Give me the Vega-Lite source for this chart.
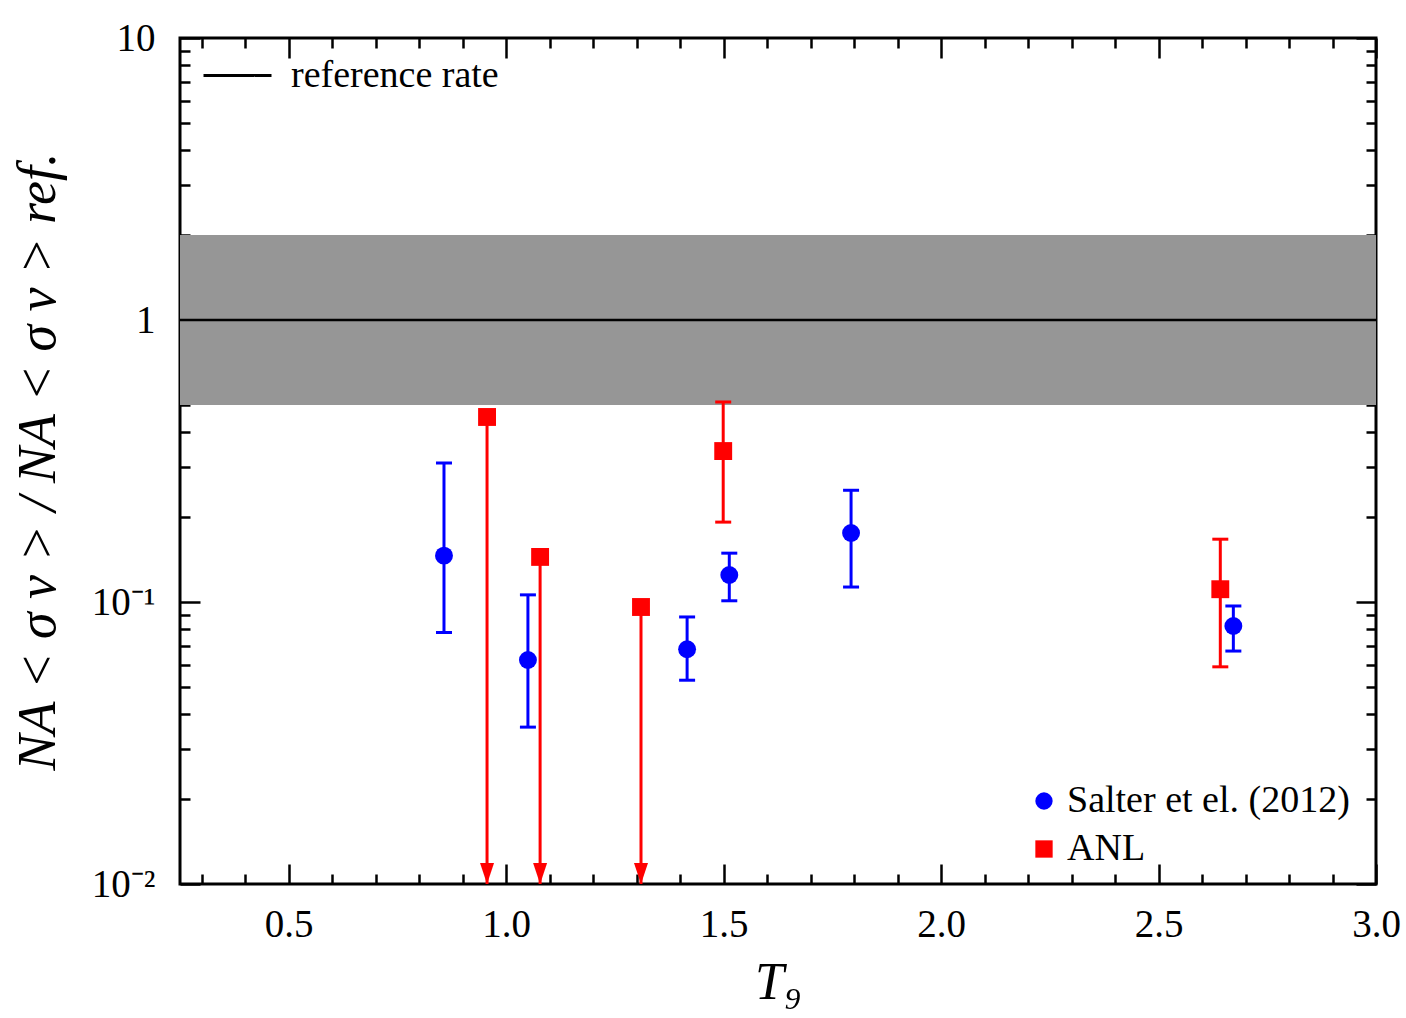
{
  "$schema": "https://vega.github.io/schema/vega-lite/v6.json",
  "width": 1196,
  "height": 846,
  "autosize": "none",
  "padding": {"left": 180, "top": 38, "right": 30, "bottom": 134},
  "background": "white",
  "config": {
    "font": "Liberation Serif",
    "view": {"stroke": "black", "strokeWidth": 3},
    "axis": {
      "domain": false,
      "grid": false,
      "tickColor": "black",
      "tickWidth": 2.5,
      "labelFont": "Liberation Serif",
      "labelFontSize": 39,
      "labelColor": "black",
      "labelFlush": false,
      "labelOverlap": false,
      "labelBound": false,
      "titleFont": "Liberation Serif",
      "titleFontWeight": "normal",
      "titleColor": "black"
    }
  },
  "datasets": {
    "points": [
      {"T9": 0.857, "ratio": 0.146, "lo": 0.078, "hi": 0.311, "series": "Salter et el. (2012)", "limit": false},
      {"T9": 1.050, "ratio": 0.0623, "lo": 0.036, "hi": 0.106, "series": "Salter et el. (2012)", "limit": false},
      {"T9": 1.416, "ratio": 0.068, "lo": 0.0528, "hi": 0.0885, "series": "Salter et el. (2012)", "limit": false},
      {"T9": 1.513, "ratio": 0.1247, "lo": 0.101, "hi": 0.149, "series": "Salter et el. (2012)", "limit": false},
      {"T9": 1.793, "ratio": 0.1757, "lo": 0.113, "hi": 0.249, "series": "Salter et el. (2012)", "limit": false},
      {"T9": 2.672, "ratio": 0.0822, "lo": 0.067, "hi": 0.0968, "series": "Salter et el. (2012)", "limit": false},
      {"T9": 0.956, "ratio": 0.453, "lo": 0.01, "hi": 0.453, "series": "ANL", "limit": true},
      {"T9": 1.078, "ratio": 0.1445, "lo": 0.01, "hi": 0.1445, "series": "ANL", "limit": true},
      {"T9": 1.310, "ratio": 0.096, "lo": 0.01, "hi": 0.096, "series": "ANL", "limit": true},
      {"T9": 1.499, "ratio": 0.343, "lo": 0.192, "hi": 0.512, "series": "ANL", "limit": false},
      {"T9": 2.642, "ratio": 0.111, "lo": 0.0589, "hi": 0.167, "series": "ANL", "limit": false}
    ]
  },
  "data": {"name": "points"},
  "resolve": {"axis": {"x": "independent", "y": "independent"}},
  "layer": [
    {
      "mark": {"type": "rect", "color": "#969696"},
      "encoding": {
        "x": {"datum": 0.25, "type": "quantitative",
          "scale": {"domain": [0.25, 3.0], "nice": false, "zero": false},
          "axis": {
            "orient": "bottom",
            "values": [0.3,0.4,0.5,0.6,0.7,0.8,0.9,1.0,1.1,1.2,1.3,1.4,1.5,1.6,1.7,1.8,1.9,2.0,2.1,2.2,2.3,2.4,2.5,2.6,2.7,2.8,2.9,3.0],
            "format": ".1f",
            "labelExpr": "abs(datum.value*2-round(datum.value*2))<1e-6 ? datum.label : ''",
            "tickSize": {"condition": {"test": "abs(datum.value*2-round(datum.value*2))<1e-6", "value": -20}, "value": -10},
            "labelPadding": 41,
            "title": "T₉",
            "titleFontSize": 52,
            "titleFontStyle": "italic",
            "titlePadding": 3
          }
        },
        "x2": {"datum": 3.0},
        "y": {"datum": 0.5, "type": "quantitative",
          "scale": {"type": "log", "domain": [0.01, 10], "nice": false},
          "axis": {
            "orient": "left",
            "values": [0.01,0.02,0.03,0.04,0.05,0.06,0.07,0.08,0.09,0.1,0.2,0.3,0.4,0.5,0.6,0.7,0.8,0.9,1,2,3,4,5,6,7,8,9,10],
            "labelExpr": "abs(datum.value-10)<1e-9 ? '10' : abs(datum.value-1)<1e-9 ? '1' : abs(datum.value-0.1)<1e-9 ? '10⁻¹' : abs(datum.value-0.01)<1e-9 ? '10⁻²' : ''",
            "tickSize": {"condition": {"test": "abs(log(datum.value)/LN10-round(log(datum.value)/LN10))<1e-6", "value": -20}, "value": -10},
            "labelPadding": 45,
            "title": "NA  <  σ    v  >  /  NA  <  σ    v  > ref.",
            "titleFontSize": 54,
            "titleFontStyle": "italic",
            "titlePadding": 26
          }
        },
        "y2": {"datum": 2}
      }
    },
    {
      "data": {"values": [{"name": "reference rate"}]},
      "mark": {"type": "rule", "color": "black", "strokeWidth": 2.5},
      "encoding": {
        "x": {"datum": 0.25, "type": "quantitative",
          "scale": {"domain": [0.25, 3.0], "nice": false, "zero": false},
          "axis": {
            "orient": "top",
            "values": [0.3,0.4,0.5,0.6,0.7,0.8,0.9,1.0,1.1,1.2,1.3,1.4,1.5,1.6,1.7,1.8,1.9,2.0,2.1,2.2,2.3,2.4,2.5,2.6,2.7,2.8,2.9,3.0],
            "labels": false,
            "tickSize": {"condition": {"test": "abs(datum.value*2-round(datum.value*2))<1e-6", "value": -20}, "value": -10},
            "title": null
          }
        },
        "x2": {"datum": 3.0},
        "y": {"datum": 1, "type": "quantitative",
          "scale": {"type": "log", "domain": [0.01, 10], "nice": false},
          "axis": {
            "orient": "right",
            "values": [0.01,0.02,0.03,0.04,0.05,0.06,0.07,0.08,0.09,0.1,0.2,0.3,0.4,0.5,0.6,0.7,0.8,0.9,1,2,3,4,5,6,7,8,9,10],
            "labels": false,
            "tickSize": {"condition": {"test": "abs(log(datum.value)/LN10-round(log(datum.value)/LN10))<1e-6", "value": -20}, "value": -10},
            "title": null
          }
        },
        "strokeDash": {"field": "name", "type": "nominal",
          "scale": {"domain": ["reference rate"], "range": [[1, 0]]},
          "legend": {"orient": "none", "legendX": 22, "legendY": 2, "title": null, "symbolType": "stroke", "symbolSize": 4624, "symbolStrokeWidth": 3, "symbolStrokeColor": "black", "labelFontSize": 38, "labelFont": "Liberation Serif", "labelColor": "black", "labelOffset": 18, "labelLimit": 0, "padding": 0}
        }
      }
    },
    {
      "mark": {"type": "rule", "strokeWidth": 3},
      "encoding": {
        "x": {"field": "T9", "type": "quantitative", "scale": {"domain": [0.25, 3.0], "nice": false, "zero": false}, "axis": null},
        "y": {"field": "lo", "type": "quantitative", "scale": {"type": "log", "domain": [0.01, 10], "nice": false}, "axis": null},
        "y2": {"field": "hi"},
        "stroke": {"field": "series", "type": "nominal", "scale": {"domain": ["ANL", "Salter et el. (2012)"], "range": ["#ff0000", "#0000ff"]}, "legend": null}
      }
    },
    {
      "transform": [{"filter": "!datum.limit"}],
      "mark": {"type": "tick", "orient": "horizontal", "size": 16, "thickness": 3, "opacity": 1},
      "encoding": {
        "x": {"field": "T9", "type": "quantitative", "scale": {"domain": [0.25, 3.0], "nice": false, "zero": false}, "axis": null},
        "y": {"field": "hi", "type": "quantitative", "scale": {"type": "log", "domain": [0.01, 10], "nice": false}, "axis": null},
        "fill": {"field": "series", "type": "nominal", "scale": {"domain": ["ANL", "Salter et el. (2012)"], "range": ["#ff0000", "#0000ff"]}, "legend": null}
      }
    },
    {
      "transform": [{"filter": "!datum.limit"}],
      "mark": {"type": "tick", "orient": "horizontal", "size": 16, "thickness": 3, "opacity": 1},
      "encoding": {
        "x": {"field": "T9", "type": "quantitative", "scale": {"domain": [0.25, 3.0], "nice": false, "zero": false}, "axis": null},
        "y": {"field": "lo", "type": "quantitative", "scale": {"type": "log", "domain": [0.01, 10], "nice": false}, "axis": null},
        "fill": {"field": "series", "type": "nominal", "scale": {"domain": ["ANL", "Salter et el. (2012)"], "range": ["#ff0000", "#0000ff"]}, "legend": null}
      }
    },
    {
      "transform": [{"filter": "datum.limit"}],
      "mark": {"type": "point", "shape": "M-1,-3L1,-3L0,0Z", "size": 196, "filled": true, "opacity": 1, "color": "#ff0000"},
      "encoding": {
        "x": {"field": "T9", "type": "quantitative", "scale": {"domain": [0.25, 3.0], "nice": false, "zero": false}, "axis": null},
        "y": {"field": "lo", "type": "quantitative", "scale": {"type": "log", "domain": [0.01, 10], "nice": false}, "axis": null}
      }
    },
    {
      "mark": {"type": "point", "filled": true, "opacity": 1, "size": 320},
      "encoding": {
        "x": {"field": "T9", "type": "quantitative", "scale": {"domain": [0.25, 3.0], "nice": false, "zero": false}, "axis": null},
        "y": {"field": "ratio", "type": "quantitative", "scale": {"type": "log", "domain": [0.01, 10], "nice": false}, "axis": null},
        "color": {"field": "series", "type": "nominal", "scale": {"domain": ["Salter et el. (2012)", "ANL"], "range": ["#0000ff", "#ff0000"]},
          "legend": {"orient": "none", "legendX": 845, "legendY": 744, "title": null, "labelFontSize": 38, "labelFont": "Liberation Serif", "labelColor": "black", "labelLimit": 0, "symbolSize": 300, "rowPadding": 10, "labelOffset": 4, "padding": 0}},
        "shape": {"field": "series", "type": "nominal", "scale": {"domain": ["Salter et el. (2012)", "ANL"], "range": ["circle", "square"]},
          "legend": {"orient": "none", "legendX": 845, "legendY": 744, "title": null, "labelFontSize": 38, "labelFont": "Liberation Serif", "labelColor": "black", "labelLimit": 0, "symbolSize": 300, "rowPadding": 10, "labelOffset": 4, "padding": 0}}
      }
    }
  ]
}
